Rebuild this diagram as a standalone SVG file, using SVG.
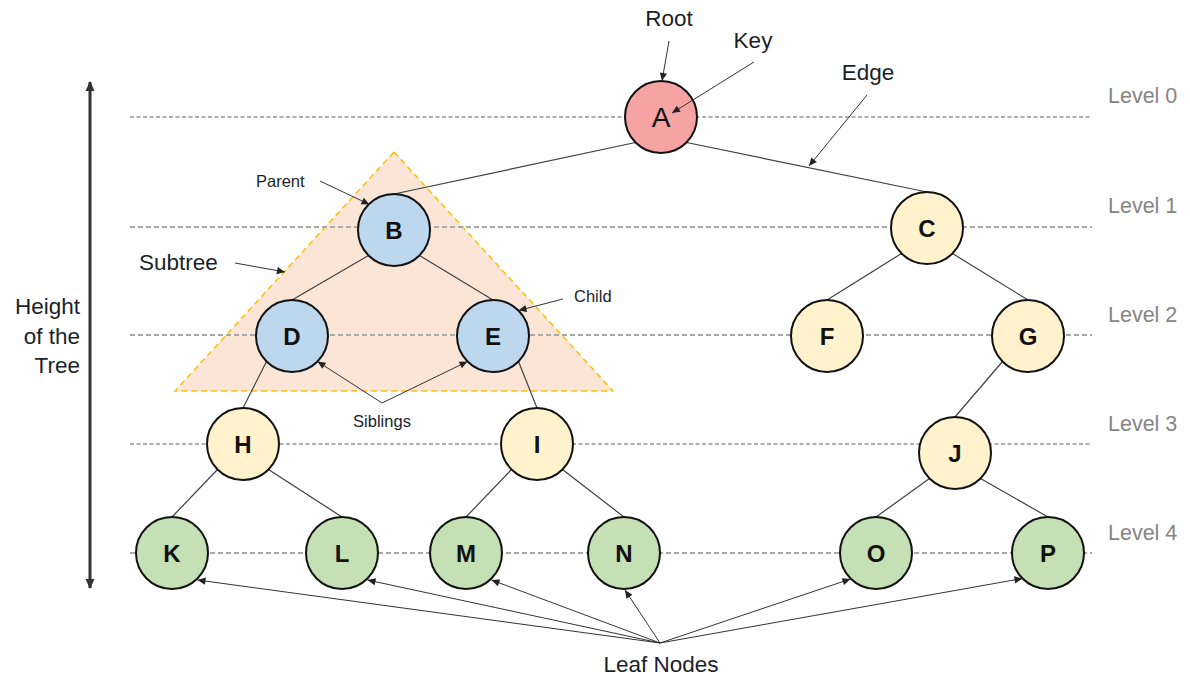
<svg xmlns="http://www.w3.org/2000/svg" width="1190" height="677" viewBox="0 0 1190 677">
  <defs>
    <marker id="tip" viewBox="0 0 10 10" refX="10" refY="5" markerWidth="9" markerHeight="8" markerUnits="userSpaceOnUse" orient="auto">
      <path d="M0,0.5 L10,5 L0,9.5 z" fill="#222"/>
    </marker>
    <marker id="bigtip" viewBox="0 0 10 10" refX="9" refY="5" markerWidth="10" markerHeight="10" markerUnits="userSpaceOnUse" orient="auto-start-reverse">
      <path d="M0,0.5 L10,5 L0,9.5 z" fill="#333"/>
    </marker>
    <style>
      .lvl-dark { stroke: #606060; stroke-width: 1.2; stroke-dasharray: 4 2.5; fill: none; }
      .lvl-light { stroke: #a8a8a8; stroke-width: 1.8; stroke-dasharray: 5 3; fill: none; }
      .lvl-text { font-family: "Liberation Sans", Arial, sans-serif; font-size: 21.5px; fill: #858585; }
      .edge { stroke: #404040; stroke-width: 1.2; fill: none; }
      .note { stroke: #333; stroke-width: 1; fill: none; marker-end: url(#tip); }
      .node circle { stroke: #111; stroke-width: 2; }
      .node text { font-family: "Liberation Sans", Arial, sans-serif; font-size: 24px; font-weight: bold; fill: #111; text-anchor: middle; }
      .blue { fill: #BDD7EE; }
      .yellow { fill: #FFF2CC; }
      .green { fill: #C5E0B4; }
      .lbl { font-family: "Liberation Sans", Arial, sans-serif; font-size: 22.5px; fill: #1b1f2a; }
      .lbl-sm { font-family: "Liberation Sans", Arial, sans-serif; font-size: 16.5px; fill: #1b1f2a; }
    </style>
  </defs>

  <rect width="1190" height="677" fill="#ffffff"/>

  <!-- subtree highlight -->
  <polygon id="subtree" points="394,152 613,391 175,391" fill="#FBE5D6" stroke="#FFC000" stroke-width="1.5" stroke-dasharray="6 4"/>

  <!-- level guide lines -->
  <g id="levels">
    <line class="lvl-dark" x1="130" y1="117" x2="1092" y2="117"/>
    <line class="lvl-light" x1="130" y1="227" x2="1092" y2="227"/>
    <line class="lvl-light" x1="130" y1="335" x2="1092" y2="335"/>
    <line class="lvl-dark" x1="130" y1="444" x2="1092" y2="444"/>
    <line class="lvl-light" x1="130" y1="553" x2="1092" y2="553"/>
    <text class="lvl-text" x="1108" y="103">Level 0</text>
    <text class="lvl-text" x="1108" y="213">Level 1</text>
    <text class="lvl-text" x="1108" y="322">Level 2</text>
    <text class="lvl-text" x="1108" y="431">Level 3</text>
    <text class="lvl-text" x="1108" y="540">Level 4</text>
  </g>

  <!-- height scale -->
  <g id="height">
    <line x1="90" y1="82" x2="90" y2="588" stroke="#333" stroke-width="3" marker-start="url(#bigtip)" marker-end="url(#bigtip)"/>
    <text class="lbl" text-anchor="end" x="80" y="314">Height</text>
    <text class="lbl" text-anchor="end" x="80" y="344">of the</text>
    <text class="lbl" text-anchor="end" x="80" y="373">Tree</text>
  </g>

  <!-- tree edges -->
  <g id="connectors">
    <line class="edge" x1="635.5" y1="142.5" x2="394" y2="194"/>
    <line class="edge" x1="686.5" y1="142.5" x2="927" y2="192"/>
    <line class="edge" x1="368.5" y1="255.5" x2="292" y2="300"/>
    <line class="edge" x1="419.5" y1="255.5" x2="493" y2="300"/>
    <line class="edge" x1="901.5" y1="253.5" x2="827" y2="300"/>
    <line class="edge" x1="952.5" y1="253.5" x2="1028" y2="300"/>
    <line class="edge" x1="266.5" y1="361.5" x2="243" y2="408"/>
    <line class="edge" x1="518.5" y1="361.5" x2="537" y2="408"/>
    <line class="edge" x1="1002.5" y1="361.5" x2="955" y2="417"/>
    <line class="edge" x1="217.5" y1="469.5" x2="172" y2="517"/>
    <line class="edge" x1="268.5" y1="469.5" x2="342" y2="517"/>
    <line class="edge" x1="511.5" y1="469.5" x2="466" y2="517"/>
    <line class="edge" x1="562.5" y1="469.5" x2="624" y2="517"/>
    <line class="edge" x1="929.5" y1="478.5" x2="876" y2="517"/>
    <line class="edge" x1="980.5" y1="478.5" x2="1048" y2="517"/>
  </g>

  <!-- nodes -->
  <g id="node-A" class="node"><circle cx="661" cy="117" r="36" fill="#F5A3A3"/><text x="661" y="127" style="font-weight:normal;font-size:28px">A</text></g>
  <g id="node-B" class="node"><circle class="blue" cx="394" cy="230" r="36"/><text x="394" y="239">B</text></g>
  <g id="node-C" class="node"><circle class="yellow" cx="927" cy="228" r="36"/><text x="927" y="237">C</text></g>
  <g id="node-D" class="node"><circle class="blue" cx="292" cy="336" r="36"/><text x="292" y="345">D</text></g>
  <g id="node-E" class="node"><circle class="blue" cx="493" cy="336" r="36"/><text x="493" y="345">E</text></g>
  <g id="node-F" class="node"><circle class="yellow" cx="827" cy="336" r="36"/><text x="827" y="345">F</text></g>
  <g id="node-G" class="node"><circle class="yellow" cx="1028" cy="336" r="36"/><text x="1028" y="345">G</text></g>
  <g id="node-H" class="node"><circle class="yellow" cx="243" cy="444" r="36"/><text x="243" y="453">H</text></g>
  <g id="node-I" class="node"><circle class="yellow" cx="537" cy="444" r="36"/><text x="537" y="453">I</text></g>
  <g id="node-J" class="node"><circle class="yellow" cx="955" cy="453" r="36"/><text x="955" y="462">J</text></g>
  <g id="node-K" class="node"><circle class="green" cx="172" cy="553" r="36"/><text x="172" y="562">K</text></g>
  <g id="node-L" class="node"><circle class="green" cx="342" cy="553" r="36"/><text x="342" y="562">L</text></g>
  <g id="node-M" class="node"><circle class="green" cx="466" cy="553" r="36"/><text x="466" y="562">M</text></g>
  <g id="node-N" class="node"><circle class="green" cx="624" cy="553" r="36"/><text x="624" y="562">N</text></g>
  <g id="node-O" class="node"><circle class="green" cx="876" cy="553" r="36"/><text x="876" y="562">O</text></g>
  <g id="node-P" class="node"><circle class="green" cx="1048" cy="553" r="36"/><text x="1048" y="562">P</text></g>

  <!-- callout labels -->
  <g id="annotations">
    <text class="lbl" text-anchor="middle" x="669" y="26">Root</text>
    <line class="note" x1="669" y1="41" x2="662" y2="81"/>
    <text class="lbl" text-anchor="middle" x="753" y="48">Key</text>
    <line class="note" x1="754" y1="62" x2="672" y2="113"/>
    <text class="lbl" text-anchor="middle" x="868" y="80">Edge</text>
    <line class="note" x1="867" y1="95" x2="809" y2="166"/>
    <text class="lbl-sm" x="256" y="187">Parent</text>
    <line class="note" x1="320" y1="181" x2="369.5" y2="204.5"/>
    <text class="lbl" x="139" y="270">Subtree</text>
    <line class="note" x1="235" y1="263" x2="285" y2="272"/>
    <text class="lbl-sm" x="574" y="302">Child</text>
    <line class="note" x1="563" y1="299" x2="518.5" y2="310.5"/>
    <text class="lbl-sm" text-anchor="middle" x="382" y="427">Siblings</text>
    <line class="note" x1="382" y1="403" x2="317.5" y2="361.5"/>
    <line class="note" x1="382" y1="403" x2="467.5" y2="361.5"/>
    <text class="lbl" text-anchor="middle" x="661" y="672">Leaf Nodes</text>
    <line class="note" x1="660" y1="643" x2="197.5" y2="580"/>
    <line class="note" x1="660" y1="643" x2="367.5" y2="580"/>
    <line class="note" x1="660" y1="643" x2="491.5" y2="580"/>
    <line class="note" x1="660" y1="643" x2="625" y2="590"/>
    <line class="note" x1="660" y1="643" x2="850.5" y2="579"/>
    <line class="note" x1="660" y1="643" x2="1022.5" y2="578.5"/>
  </g>
</svg>
